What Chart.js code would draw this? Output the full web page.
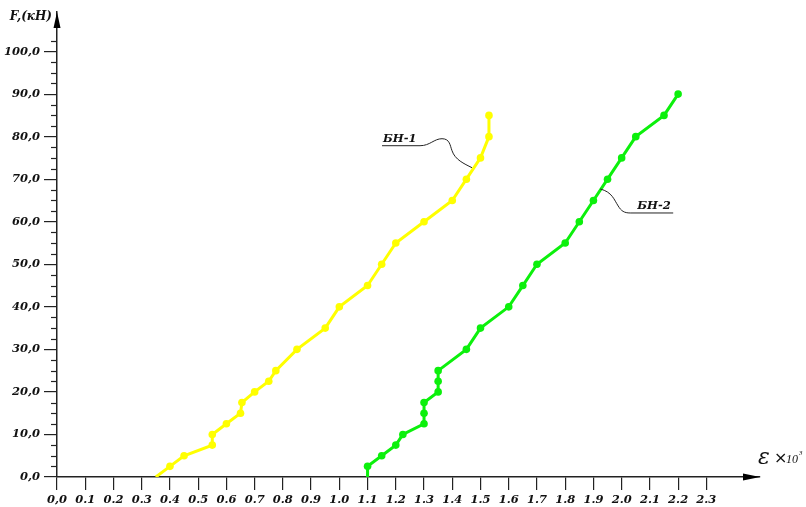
<!DOCTYPE html>
<html>
<head>
<meta charset="utf-8">
<script src="https://cdn.jsdelivr.net/npm/chart.js@4.4.1/dist/chart.umd.min.js"></script>
<style>
  html, body { margin: 0; padding: 0; background: #ffffff; }
  #wrap { width: 806px; height: 507px; }
</style>
</head>
<body>
<div id="wrap"><canvas id="c" width="806" height="507"></canvas></div>
<script>
// Load–strain curves of two specimens (strain ×10³, load in кН)
const bn1Strain = [0.35, 0.40, 0.45, 0.55, 0.55, 0.60, 0.65, 0.655, 0.70, 0.75, 0.775, 0.85, 0.95, 1.00, 1.10, 1.15, 1.20, 1.30, 1.40, 1.45, 1.50, 1.53, 1.53];
const bn1Load   = [0, 2.5, 5, 7.5, 10, 12.5, 15, 17.5, 20, 22.5, 25, 30, 35, 40, 45, 50, 55, 60, 65, 70, 75, 80, 85];

const bn2Strain = [1.10, 1.10, 1.15, 1.20, 1.225, 1.30, 1.30, 1.30, 1.35, 1.35, 1.35, 1.45, 1.50, 1.60, 1.65, 1.70, 1.80, 1.85, 1.90, 1.95, 2.00, 2.05, 2.15, 2.20];
const bn2Load   = [0, 2.5, 5, 7.5, 10, 12.5, 15, 17.5, 20, 22.5, 25, 30, 35, 40, 45, 50, 55, 60, 65, 70, 75, 80, 85, 90];

const xTickValues = [0, 0.1, 0.2, 0.3, 0.4, 0.5, 0.6, 0.7, 0.8, 0.9, 1.0, 1.1, 1.2, 1.3, 1.4, 1.5, 1.6, 1.7, 1.8, 1.9, 2.0, 2.1, 2.2, 2.3];
const xTickLabels = ['0,0', '0.1', '0.2', '0.3', '0.4', '0.5', '0.6', '0.7', '0.8', '0.9', '1.0', '1.1', '1.2', '1.3', '1.4', '1.5', '1.6', '1.7', '1.8', '1.9', '2.0', '2.1', '2.2', '2.3'];

const yTickValues = [0, 10, 20, 30, 40, 50, 60, 70, 80, 90, 100];
const yTickLabels = ['0,0', '10,0', '20,0', '30,0', '40,0', '50,0', '60,0', '70,0', '80,0', '90,0', '100,0'];
const yMinorStep = 2.5;

const seriesNames = ['БН-1', 'БН-2'];
const yAxisTitle = 'F,(кН)';

// Axis extents (arrow tips sit at the maxima)
const X_MAX = 2.49;
const Y_MAX = 109.3;

// Where the leader lines of the curve captions touch each curve
const bn1LeaderEnd = { x: 1.47, y: 72.7 };
const bn2LeaderEnd = { x: 1.924, y: 67.7 };

const YELLOW = '#FFFF00';
const GREEN = '#0CF00C';
const AXIS = '#222222';
const TEXT = '#111111';
const LABEL_FONT = { family: '"DejaVu Serif", serif', size: 11.5, style: 'italic', weight: 'bold' };

function points(xs, ys) {
  return xs.map((x, i) => ({ x: x, y: ys[i] }));
}

const annotate = {
  id: 'annotate',
  afterDraw(chart) {
    const ctx = chart.ctx;
    const xs = chart.scales.x;
    const ys = chart.scales.y;
    const x0 = xs.getPixelForValue(0);
    const y0 = ys.getPixelForValue(0);
    const xEnd = xs.getPixelForValue(X_MAX);
    const yEnd = ys.getPixelForValue(Y_MAX);

    ctx.save();
    // minor ticks on the load axis
    ctx.strokeStyle = AXIS;
    ctx.lineWidth = 1.2;
    for (let v = yMinorStep; v < Y_MAX - 5; v += yMinorStep) {
      if (Math.abs(v % 10) < 1e-6) continue;
      const py = Math.round(ys.getPixelForValue(v)) + 0.5;
      ctx.beginPath();
      ctx.moveTo(x0 - 6, py);
      ctx.lineTo(x0, py);
      ctx.stroke();
    }

    // arrowheads
    ctx.fillStyle = '#000';
    ctx.beginPath();
    ctx.moveTo(x0, yEnd);
    ctx.lineTo(x0 - 3.5, yEnd + 16);
    ctx.lineTo(x0 + 3.5, yEnd + 16);
    ctx.closePath();
    ctx.fill();
    ctx.beginPath();
    ctx.moveTo(xEnd, y0);
    ctx.lineTo(xEnd - 17, y0 - 3.5);
    ctx.lineTo(xEnd - 17, y0 + 3.5);
    ctx.closePath();
    ctx.fill();

    // axis titles
    ctx.fillStyle = TEXT;
    ctx.font = 'italic bold 12px "DejaVu Serif", serif';
    ctx.textAlign = 'right';
    ctx.textBaseline = 'middle';
    ctx.fillText(yAxisTitle, x0 - 5, yEnd + 5);

    ctx.textAlign = 'left';
    ctx.textBaseline = 'alphabetic';
    ctx.font = 'italic 22px "DejaVu Serif", serif';
    ctx.fillText('ε', xEnd - 2, y0 - 13);
    ctx.font = '16px "DejaVu Sans", sans-serif';
    ctx.fillText('×', xEnd + 14, y0 - 14);
    ctx.font = 'italic 12px "Liberation Serif", serif';
    ctx.fillText('10', xEnd + 26, y0 - 14);
    ctx.font = 'italic 7px "Liberation Serif", serif';
    ctx.fillText('3', xEnd + 39, y0 - 22);

    // caption БН-1 with its leader
    ctx.strokeStyle = '#222';
    ctx.lineWidth = 1;
    let ax = xs.getPixelForValue(bn1LeaderEnd.x);
    let ay = ys.getPixelForValue(bn1LeaderEnd.y);
    ctx.beginPath();
    ctx.moveTo(ax - 90, ay - 22);
    ctx.lineTo(ax - 52, ay - 22);
    ctx.bezierCurveTo(ax - 42, ay - 22, ax - 38, ay - 29, ax - 30, ay - 29);
    ctx.bezierCurveTo(ax - 22, ay - 29, ax - 22, ay - 22, ax - 20, ay - 17);
    ctx.bezierCurveTo(ax - 17, ay - 8, ax - 8, ay - 4, ax, ay);
    ctx.stroke();
    ctx.font = 'italic bold 11.5px "DejaVu Serif", serif';
    ctx.textAlign = 'left';
    ctx.textBaseline = 'alphabetic';
    ctx.fillText(seriesNames[0], ax - 89, ay - 26);

    // caption БН-2 with its leader
    ax = xs.getPixelForValue(bn2LeaderEnd.x);
    ay = ys.getPixelForValue(bn2LeaderEnd.y);
    ctx.beginPath();
    ctx.moveTo(ax, ay);
    ctx.bezierCurveTo(ax + 12, ay + 3, ax + 14, ay + 11, ax + 18, ay + 17);
    ctx.bezierCurveTo(ax + 21, ay + 22, ax + 24, ay + 24, ax + 30, ay + 24);
    ctx.lineTo(ax + 73, ay + 24);
    ctx.stroke();
    ctx.fillText(seriesNames[1], ax + 37, ay + 20);
    ctx.restore();
  }
};

new Chart(document.getElementById('c').getContext('2d'), {
  type: 'line',
  data: {
    datasets: [
      {
        label: seriesNames[0],
        data: points(bn1Strain, bn1Load),
        borderColor: YELLOW,
        backgroundColor: YELLOW,
        borderWidth: 3,
        pointRadius: c => (c.dataIndex === 0 ? 0 : 3.8),
        pointBorderWidth: 0,
        tension: 0
      },
      {
        label: seriesNames[1],
        data: points(bn2Strain, bn2Load),
        borderColor: GREEN,
        backgroundColor: GREEN,
        borderWidth: 3,
        pointRadius: c => (c.dataIndex === 0 ? 0 : 3.8),
        pointBorderWidth: 0,
        tension: 0
      }
    ]
  },
  options: {
    responsive: false,
    animation: false,
    events: [],
    layout: { padding: { top: 12, right: 46, left: 0, bottom: 0 } },
    plugins: { legend: { display: false }, tooltip: { enabled: false } },
    scales: {
      x: {
        type: 'linear',
        min: 0,
        max: X_MAX,
        afterBuildTicks: s => { s.ticks = xTickValues.map(v => ({ value: v })); },
        afterFit: s => { s.height = 30; },
        ticks: {
          callback: v => xTickLabels[Math.round(v * 10)],
          font: LABEL_FONT,
          color: TEXT,
          padding: 3,
          maxRotation: 0,
          autoSkip: false
        },
        grid: { drawOnChartArea: false, drawTicks: true, tickLength: 13, color: AXIS, lineWidth: 1.2 },
        border: { display: true, color: AXIS, width: 1.5 }
      },
      y: {
        type: 'linear',
        min: 0,
        max: Y_MAX,
        afterBuildTicks: s => { s.ticks = yTickValues.map(v => ({ value: v })); },
        afterFit: s => { s.width = 57; },
        ticks: {
          callback: v => yTickLabels[Math.round(v / 10)],
          font: LABEL_FONT,
          color: TEXT,
          padding: 4,
          autoSkip: false
        },
        grid: { drawOnChartArea: false, drawTicks: true, tickLength: 13, color: AXIS, lineWidth: 1.2 },
        border: { display: true, color: AXIS, width: 1.5 }
      }
    }
  },
  plugins: [annotate]
});
</script>
</body>
</html>
